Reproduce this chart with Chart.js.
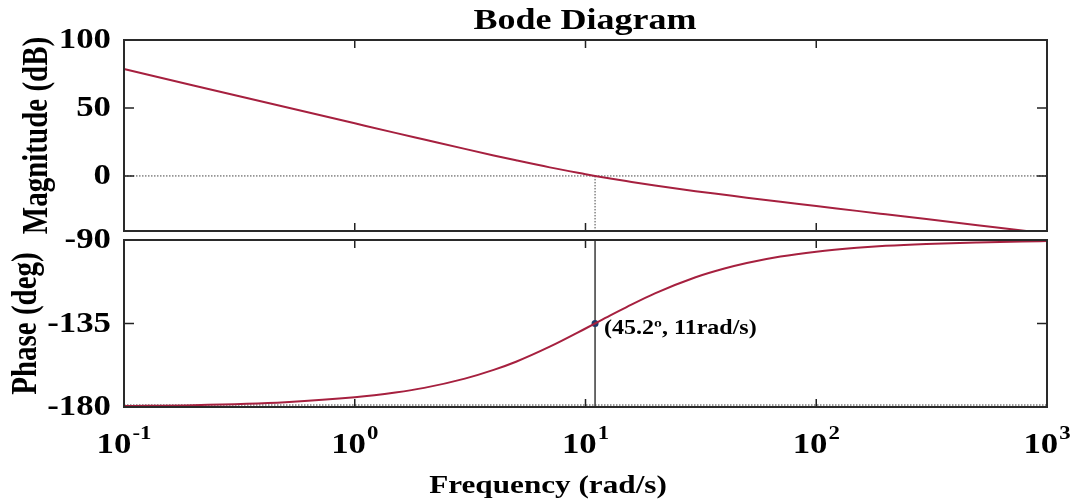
<!DOCTYPE html>
<html>
<head>
<meta charset="utf-8">
<script src="https://cdn.jsdelivr.net/npm/chart.js@4.4.1/dist/chart.umd.min.js"></script>
<style>
  html, body { margin: 0; padding: 0; background: #fff; }
  #wrap { position: relative; width: 1076px; height: 503px; }
  canvas { position: absolute; left: 0; top: 0; }
</style>
</head>
<body>
<div id="wrap">
  <canvas id="magChart" width="1076" height="503"></canvas>
  <canvas id="phaseChart" width="1076" height="503"></canvas>
</div>
<script>
// values
const freq      = [0.1, 0.2, 0.5, 1, 1.5, 2, 3, 4, 5, 7, 10, 11, 13, 15, 20, 30, 40, 50, 70, 100, 150, 200, 300, 500, 780, 1000];
const magnitude = [78.6, 66.6, 50.7, 38.7, 31.7, 26.8, 19.9, 15.1, 11.5, 6.3, 1.3, 0, -2.1, -3.8, -7.1, -11.2, -13.9, -16.0, -19.0, -22.1, -25.7, -28.2, -31.7, -36.2, -40.2, -42.2];
const phase     = [-179.5, -179.0, -177.4, -174.8, -172.2, -169.7, -164.7, -160.0, -155.6, -147.5, -137.7, -135, -130.2, -126.3, -118.8, -110.1, -105.4, -102.4, -98.9, -96.3, -94.2, -93.1, -92.1, -91.3, -90.8, -90.6];

const magTicks = [100, 50, 0];
const phaseTicks = [-90, -135, -180];
const freqTicks = [0.1, 1, 10, 100, 1000];
const freqExponents = ['-1', '0', '1', '2', '3'];

const markerFreq = [11];
const markerPhase = [-135];
const markerLabel = '(45.2\u00BA, 11rad/s)';

const LINE = '#A6203F';
const SERIF = '"Liberation Serif", "Times New Roman", serif';
const STRETCH = 1.2; // the picture is a bit wider than tall

function stretchText(ctx, text, x, y, size, align, baseline, rotate) {
    ctx.save();
    ctx.font = 'bold ' + size + 'px ' + SERIF;
    ctx.fillStyle = '#000';
    ctx.textAlign = align;
    ctx.textBaseline = baseline;
    ctx.translate(x, y);
    ctx.scale(STRETCH, 1);
    if (rotate) ctx.rotate(-Math.PI / 2);
    ctx.fillText(text, 0, 0);
    ctx.restore();
}

function drawFrame(chart, yTicks) {
    const { ctx, chartArea: a, scales } = chart;
    ctx.save();
    ctx.strokeStyle = '#222';
    ctx.lineWidth = 1.5;
    ctx.beginPath();
    freqTicks.forEach(v => {
        const px = scales.x.getPixelForValue(v);
        ctx.moveTo(px, a.top); ctx.lineTo(px, a.top + 8);
        ctx.moveTo(px, a.bottom); ctx.lineTo(px, a.bottom - 8);
    });
    yTicks.forEach(v => {
        const py = scales.y.getPixelForValue(v);
        ctx.moveTo(a.left, py); ctx.lineTo(a.left + 10, py);
        ctx.moveTo(a.right, py); ctx.lineTo(a.right - 10, py);
    });
    ctx.stroke();
    ctx.lineWidth = 2;
    ctx.strokeStyle = '#2a2a2a';
    ctx.strokeRect(a.left, a.top, a.right - a.left, a.bottom - a.top);
    ctx.restore();

    yTicks.forEach(v => {
        stretchText(ctx, String(v), a.left - 13, scales.y.getPixelForValue(v) + 1, 29, 'right', 'middle', false);
    });
}

const magPlugin = {
    id: 'magDecor',
    beforeDatasetsDraw(chart) {
        const { ctx, chartArea: a, scales } = chart;
        const y0 = scales.y.getPixelForValue(0);
        const xm = scales.x.getPixelForValue(markerFreq[0]);
        ctx.save();
        ctx.strokeStyle = '#444';
        ctx.lineWidth = 1;
        ctx.setLineDash([1.5, 1.5]);
        ctx.beginPath();
        ctx.moveTo(a.left, y0); ctx.lineTo(a.right, y0);
        ctx.moveTo(xm, y0); ctx.lineTo(xm, a.bottom);
        ctx.stroke();
        ctx.restore();
    },
    afterDraw(chart) {
        const a = chart.chartArea;
        drawFrame(chart, magTicks);
        stretchText(chart.ctx, 'Bode Diagram', 585, 29, 30, 'center', 'alphabetic', false);
        stretchText(chart.ctx, 'Magnitude (dB)', 38, (a.top + a.bottom) / 2, 29, 'center', 'middle', true);
    }
};

const phasePlugin = {
    id: 'phaseDecor',
    beforeDatasetsDraw(chart) {
        const { ctx, chartArea: a, scales } = chart;
        const xm = scales.x.getPixelForValue(markerFreq[0]);
        ctx.save();
        ctx.strokeStyle = '#3a3a3a';
        ctx.lineWidth = 1.5;
        ctx.beginPath();
        ctx.moveTo(xm, a.top); ctx.lineTo(xm, a.bottom);
        ctx.stroke();
        ctx.lineWidth = 1;
        ctx.setLineDash([1.5, 1.5]);
        ctx.beginPath();
        ctx.moveTo(a.left, a.bottom - 2); ctx.lineTo(a.right, a.bottom - 2);
        ctx.stroke();
        ctx.restore();
    },
    afterDraw(chart) {
        const { ctx, chartArea: a, scales } = chart;
        drawFrame(chart, phaseTicks);
        stretchText(ctx, 'Phase (deg)', 27, (a.top + a.bottom) / 2, 29, 'center', 'middle', true);

        // decade labels 10^n
        freqTicks.forEach((v, i) => {
            const px = scales.x.getPixelForValue(v);
            ctx.save();
            ctx.font = 'bold 29px ' + SERIF;
            const wBase = ctx.measureText('10').width * STRETCH;
            ctx.font = 'bold 19px ' + SERIF;
            const wExp = ctx.measureText(freqExponents[i]).width * STRETCH;
            ctx.restore();
            const x0 = px - (wBase + wExp + 1) / 2;
            stretchText(ctx, '10', x0, 453, 29, 'left', 'alphabetic', false);
            stretchText(ctx, freqExponents[i], x0 + wBase + 1, 439, 19, 'left', 'alphabetic', false);
        });

        stretchText(ctx, 'Frequency (rad/s)', 548, 493, 26, 'center', 'alphabetic', false);

        const xm = scales.x.getPixelForValue(markerFreq[0]);
        const ym = scales.y.getPixelForValue(markerPhase[0]);
        stretchText(ctx, markerLabel, xm + 9, ym + 5, 20, 'left', 'middle', false);
    }
};

function lineSet(values) {
    return {
        data: freq.map((f, i) => ({ x: f, y: values[i] })),
        borderColor: LINE,
        borderWidth: 2,
        pointRadius: 0,
        cubicInterpolationMode: 'monotone',
        clip: 1
    };
}

const common = {
    responsive: false,
    animation: false,
    devicePixelRatio: 1,
    plugins: { legend: { display: false }, tooltip: { enabled: false } }
};

new Chart(document.getElementById('magChart'), {
    type: 'line',
    data: { datasets: [lineSet(magnitude)] },
    options: {
        ...common,
        layout: { padding: { left: 124, right: 29, top: 40, bottom: 272 } },
        scales: {
            x: { type: 'logarithmic', min: 0.1, max: 1000, display: false },
            y: { type: 'linear', min: -40.5, max: 100, display: false }
        }
    },
    plugins: [magPlugin]
});

new Chart(document.getElementById('phaseChart'), {
    type: 'line',
    data: {
        datasets: [
            lineSet(phase),
            {
                data: markerFreq.map((f, i) => ({ x: f, y: markerPhase[i] })),
                showLine: false,
                pointRadius: 3.5,
                pointBackgroundColor: '#1F3B6B',
                pointBorderColor: '#1F3B6B',
                pointBorderWidth: 0
            }
        ]
    },
    options: {
        ...common,
        layout: { padding: { left: 124, right: 29, top: 240, bottom: 96 } },
        scales: {
            x: { type: 'logarithmic', min: 0.1, max: 1000, display: false },
            y: { type: 'linear', min: -180, max: -90, display: false }
        }
    },
    plugins: [phasePlugin]
});
</script>
</body>
</html>
